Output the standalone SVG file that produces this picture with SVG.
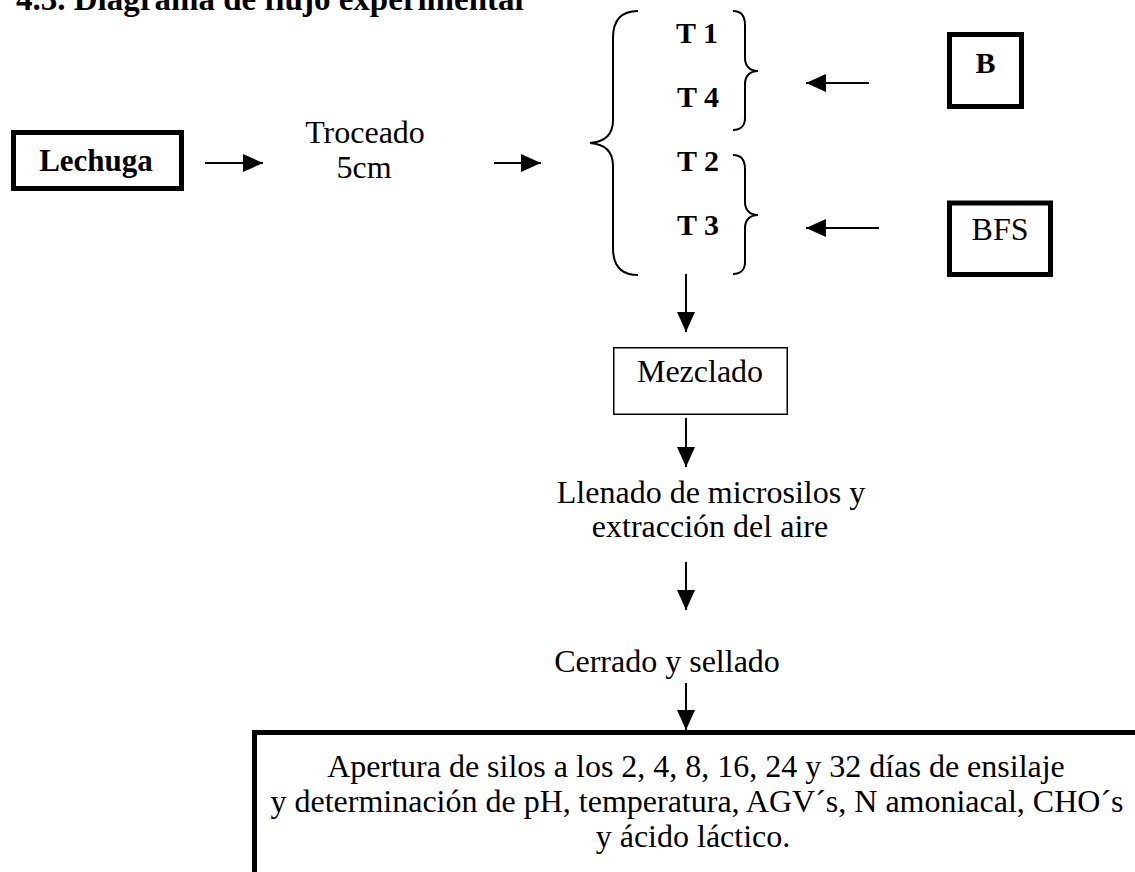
<svg xmlns="http://www.w3.org/2000/svg" width="1135" height="872" viewBox="0 0 1135 872">
  <defs>
    <marker id="arrowhead" markerUnits="userSpaceOnUse" markerWidth="20" markerHeight="18" refX="20" refY="9" orient="auto">
      <path d="M0,0 L20,9 L0,18 z" fill="#000"/>
    </marker>
    <style>
      text { font-family: "Liberation Serif", "Times New Roman", serif; fill: #000; }
      .reg { font-size: 32px; }
      .bold { font-size: 30px; font-weight: bold; }
      .mid { text-anchor: middle; }
      .thick { fill: #fff; stroke: #000; stroke-width: 5; }
      .thin { fill: #fff; stroke: #000; stroke-width: 1.5; }
      .brace { fill: none; stroke: #000; stroke-width: 2; }
      .conn line { stroke: #000; stroke-width: 2; marker-end: url(#arrowhead); }
    </style>
  </defs>

  <rect width="1135" height="872" fill="#fff"/>

  <!-- heading, partly above the top edge -->
  <text x="16" y="10" style="font-size:33px;font-weight:bold">4.3. Diagrama de flujo experimental</text>

  <g id="lechuga">
    <rect class="thick" x="13.5" y="132.5" width="168" height="56"/>
    <text class="bold mid" x="96" y="171" style="font-size:31px">Lechuga</text>
  </g>

  <g id="troceado">
    <text class="reg mid" x="365" y="143">Troceado</text>
    <text class="reg mid" x="364" y="178">5cm</text>
  </g>

  <g id="tratamientos">
    <path class="brace" d="M638,11 C622,11 613,20 613,38 L613,120 C613,135 604,142 590,143 C604,144 613,151 613,166 L613,248 C613,266 622,275 638,275"/>
    <text class="bold" x="676" y="43">T 1</text>
    <text class="bold" x="677" y="107">T 4</text>
    <text class="bold" x="677" y="171">T 2</text>
    <text class="bold" x="677" y="235">T 3</text>
    <path class="brace" d="M733,11 C740,11 745,15 745,25 L745,58 C745,66 750,71 758,71 C750,71 745,76 745,84 L745,118 C745,126 740,130 733,130"/>
    <path class="brace" d="M733,155 C740,155 745,159 745,169 L745,202 C745,210 750,215 758,215 C750,215 745,220 745,228 L745,262 C745,270 740,274 733,274"/>
  </g>

  <g id="b">
    <rect class="thick" x="949.5" y="34.5" width="72" height="72"/>
    <text class="bold mid" x="985.5" y="73">B</text>
  </g>

  <g id="bfs">
    <rect class="thick" x="949.5" y="203" width="101" height="71.5"/>
    <text class="reg mid" x="1000" y="240">BFS</text>
  </g>

  <g id="mezclado">
    <rect class="thin" x="613.75" y="347.75" width="173.5" height="66.5"/>
    <text class="reg mid" x="700" y="382">Mezclado</text>
  </g>

  <g id="llenado">
    <text class="reg mid" x="711" y="503">Llenado de microsilos y</text>
    <text class="reg mid" x="710" y="537">extracción del aire</text>
  </g>

  <g id="cerrado">
    <text class="reg mid" x="667" y="672">Cerrado y sellado</text>
  </g>

  <g id="apertura">
    <rect class="thick" x="254.5" y="732.5" width="900" height="200"/>
    <text class="reg mid" x="696" y="777">Apertura de silos a los 2, 4, 8, 16, 24 y 32 días de ensilaje</text>
    <text class="reg mid" x="697" y="812">y determinación de pH, temperatura, AGV´s, N amoniacal, CHO´s</text>
    <text class="reg mid" x="693" y="847">y ácido láctico.</text>
  </g>

  <g id="connectors" class="conn">
    <line x1="205" y1="163" x2="263" y2="163"/>
    <line x1="494" y1="163" x2="541" y2="163"/>
    <line x1="869" y1="83" x2="806" y2="83"/>
    <line x1="879" y1="228" x2="806" y2="228"/>
    <line x1="686" y1="274" x2="686" y2="332"/>
    <line x1="686" y1="418" x2="686" y2="467"/>
    <line x1="686" y1="562" x2="686" y2="610"/>
    <line x1="686" y1="683" x2="686" y2="730"/>
  </g>
</svg>
